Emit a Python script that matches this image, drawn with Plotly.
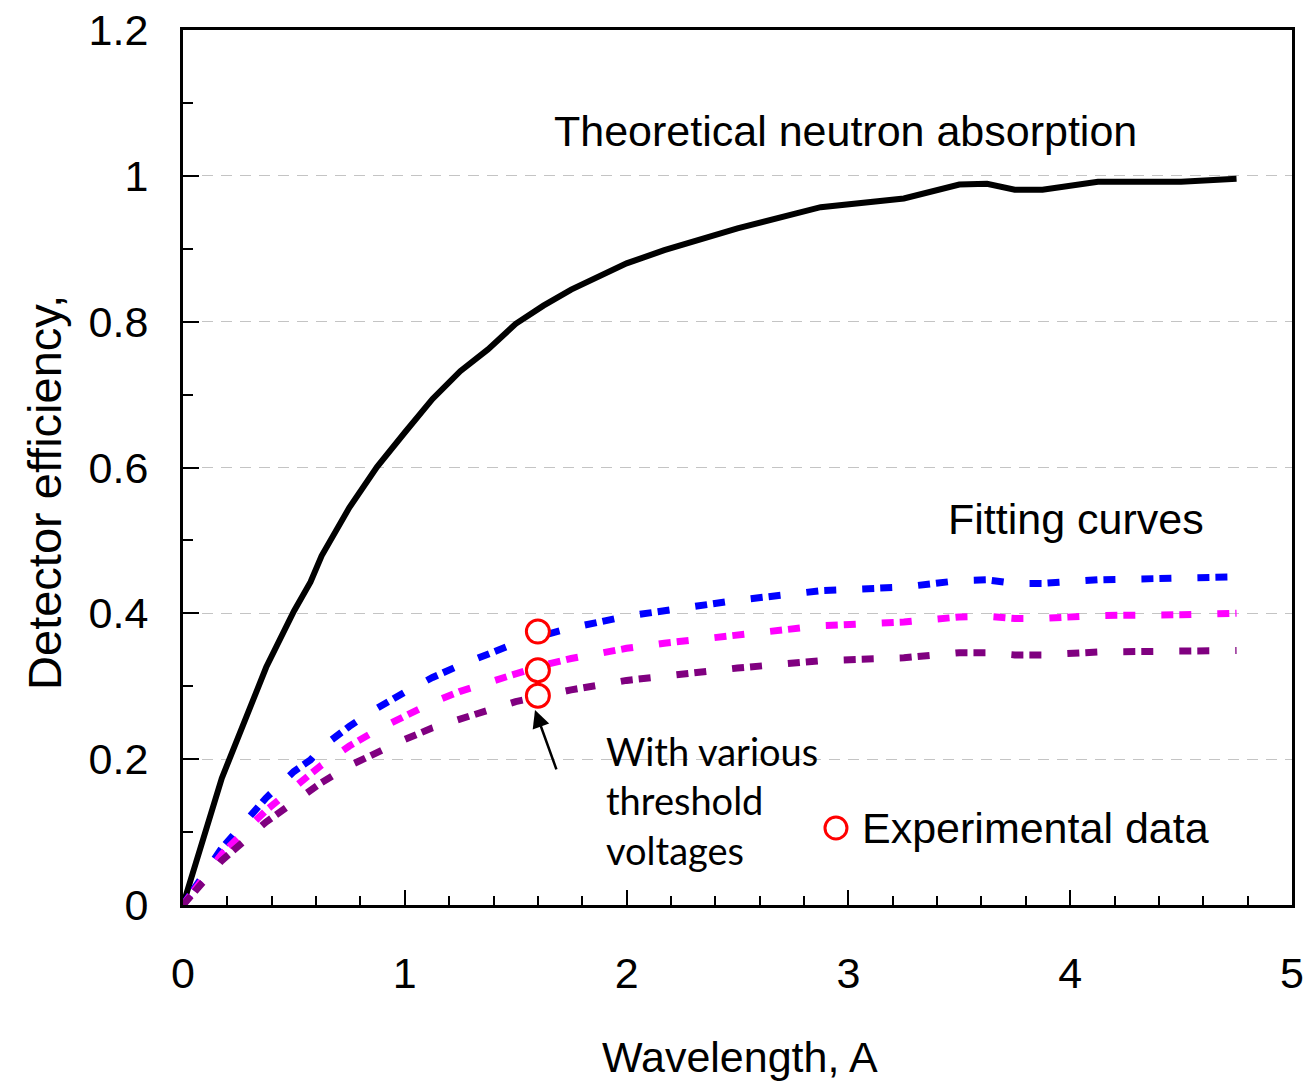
import plotly.graph_objects as go

# Wavelength grid (Angstrom) shared by the theory curve and the fitting curves
wavelength = [0, 0.175, 0.375, 0.5, 0.575, 0.625, 0.75, 0.875, 1.0, 1.125, 1.25,
              1.375, 1.5, 1.625, 1.75, 2.0, 2.17, 2.5, 2.875, 3.25, 3.5, 3.625,
              3.75, 3.875, 4.125, 4.5, 4.75]

# Theoretical neutron absorption
theory = [0, 0.174, 0.326, 0.403, 0.443, 0.479, 0.545, 0.601, 0.648, 0.694, 0.732,
          0.762, 0.797, 0.822, 0.844, 0.880, 0.898, 0.928, 0.957, 0.969, 0.988, 0.989,
          0.981, 0.981, 0.992, 0.992, 0.996]

# Fitting curves for the three threshold voltages
fit_high = [0, 0.078, 0.147, 0.183, 0.199, 0.216, 0.245, 0.270, 0.292, 0.312, 0.329,
            0.343, 0.359, 0.370, 0.380, 0.396, 0.404, 0.418, 0.431, 0.436, 0.445, 0.446,
            0.441, 0.441, 0.446, 0.448, 0.450]
fit_mid = [0, 0.070, 0.130, 0.161, 0.177, 0.192, 0.218, 0.240, 0.259, 0.278, 0.293,
           0.305, 0.319, 0.329, 0.338, 0.352, 0.359, 0.371, 0.383, 0.388, 0.395, 0.396,
           0.393, 0.393, 0.397, 0.398, 0.400]
fit_low = [0, 0.061, 0.114, 0.141, 0.155, 0.168, 0.191, 0.210, 0.227, 0.243, 0.256,
           0.267, 0.279, 0.288, 0.295, 0.308, 0.314, 0.325, 0.335, 0.339, 0.346, 0.346,
           0.343, 0.343, 0.347, 0.347, 0.349]

# Measured efficiencies
exp_wavelength = [1.6, 1.6, 1.6]
exp_efficiency = [0.375, 0.322, 0.287]

FONT = "Arial, Liberation Sans, sans-serif"
DASH = "12px,6px,12px,26px"

fig = go.Figure()

fig.add_trace(go.Scatter(x=wavelength, y=theory, mode="lines",
                         line=dict(color="black", width=6), showlegend=False))
for series, colour in [(fit_high, "#0000FF"), (fit_mid, "#FF00FF"), (fit_low, "#800080")]:
    fig.add_trace(go.Scatter(x=wavelength, y=series, mode="lines",
                             line=dict(color=colour, width=7, dash=DASH),
                             showlegend=False))

fig.add_trace(go.Scatter(x=exp_wavelength, y=exp_efficiency, mode="markers",
                         marker=dict(symbol="circle", size=23, color="white",
                                     line=dict(color="#FF0000", width=3)),
                         showlegend=False))

fig.update_layout(
    width=1310, height=1085,
    margin=dict(l=183, r=18, t=30, b=180),
    paper_bgcolor="white", plot_bgcolor="white",
    font=dict(family=FONT, size=43, color="black"),
    showlegend=False,
)

fig.update_xaxes(
    range=[0, 5], dtick=1, tick0=0, automargin=False,
    showline=True, linecolor="black", linewidth=3, mirror=True,
    showgrid=False, zeroline=False,
    ticks="inside", ticklen=15, tickwidth=1.5, tickcolor="black",
    ticklabelstandoff=28,
    minor=dict(dtick=0.2, ticks="inside", ticklen=9, tickwidth=1.5, tickcolor="black",
               showgrid=False),
    tickfont=dict(size=43),
)
fig.update_yaxes(
    range=[0, 1.2], dtick=0.2, tick0=0, automargin=False,
    showline=True, linecolor="black", linewidth=3, mirror=True,
    showgrid=True, gridcolor="#c4c4c4", gridwidth=1, griddash="11px,8px",
    zeroline=False,
    ticks="inside", ticklen=16, tickwidth=1.5, tickcolor="black",
    ticklabelstandoff=23,
    minor=dict(dtick=0.1, ticks="inside", ticklen=10, tickwidth=1.5, tickcolor="black",
               showgrid=False),
    tickfont=dict(size=43),
)

annotations = [
    dict(text="Wavelength, A", xref="paper", yref="paper", x=0.502, y=-0.1737,
         xanchor="center", yanchor="middle", showarrow=False, font=dict(size=43)),
    dict(text="Detector efficiency,", xref="paper", yref="paper", x=-0.1244, y=0.471,
         xanchor="center", yanchor="middle", textangle=-90, showarrow=False,
         font=dict(size=47)),
    dict(text="Theoretical neutron absorption", x=2.985, y=1.062, xanchor="center",
         yanchor="middle", showarrow=False, font=dict(size=43)),
    dict(text="Fitting curves", x=4.026, y=0.5295, xanchor="center", yanchor="middle",
         showarrow=False, font=dict(size=43)),
    dict(text="Experimental data", x=3.052, y=0.1056, xanchor="left", yanchor="middle",
         showarrow=False, font=dict(size=43)),
    dict(text="With various<br>threshold<br>voltages", x=1.898, y=0.144,
         xanchor="left", yanchor="middle", align="left", showarrow=False,
         font=dict(family="Lato, Carlito, sans-serif", size=38)),
    dict(text="", x=1.587, y=0.2675, ax=1.686, ay=0.184, axref="x", ayref="y",
         showarrow=True, arrowhead=2, arrowsize=1.4, arrowwidth=2.5, arrowcolor="black"),
]
fig.update_layout(annotations=annotations)

# Key symbol for the experimental points
fig.add_shape(type="circle", xref="x", yref="y", xsizemode="pixel", ysizemode="pixel",
              xanchor=2.944, yanchor=0.1056, x0=-11, x1=11, y0=-11, y1=11,
              line=dict(color="#FF0000", width=3), fillcolor="white")

fig.write_html("out.html")
